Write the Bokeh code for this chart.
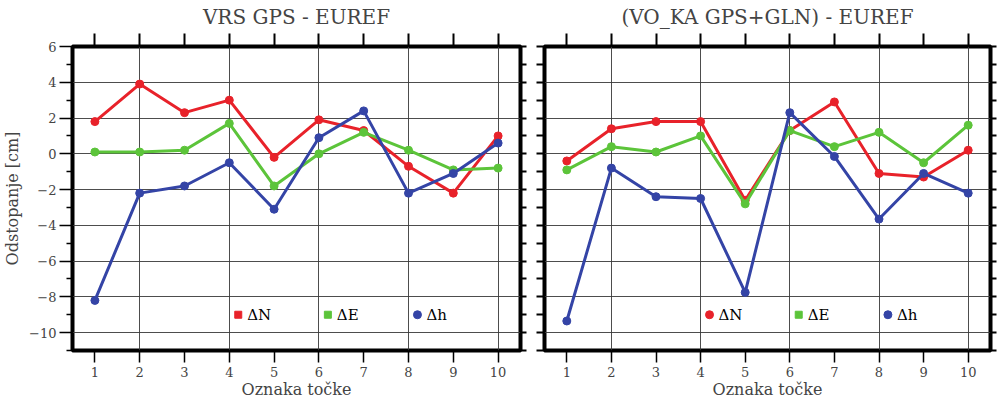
from bokeh.plotting import figure
from bokeh.models import LinearAxis, FixedTicker, Range1d, CustomLabelingPolicy
from bokeh.layouts import row
from bokeh.core.properties import value
from bokeh.embed import file_html
from bokeh.resources import INLINE

# ---------------- data ----------------
tocke = [1, 2, 3, 4, 5, 6, 7, 8, 9, 10]

vrs_dN = [1.8, 3.9, 2.3, 3.0, -0.2, 1.9, 1.3, -0.7, -2.2, 1.0]
vrs_dE = [0.1, 0.1, 0.2, 1.7, -1.8, 0.0, 1.2, 0.2, -0.9, -0.8]
vrs_dh = [-8.2, -2.2, -1.8, -0.5, -3.1, 0.9, 2.4, -2.2, -1.1, 0.6]

voka_dN = [-0.4, 1.4, 1.8, 1.8, -2.6, 1.3, 2.9, -1.1, -1.3, 0.2]
voka_dE = [-0.9, 0.4, 0.1, 1.0, -2.8, 1.3, 0.4, 1.2, -0.5, 1.6]
voka_dh = [-9.35, -0.8, -2.4, -2.5, -7.75, 2.3, -0.15, -3.65, -1.1, -2.2]

series_labels = ["ΔN", "ΔE", "Δh"]
y_major = [-10, -8, -6, -4, -2, 0, 2, 4, 6]
y_minor = [-11, -9, -7, -5, -3, -1, 1, 3, 5]
y_all = list(range(-11, 7))
x_grid = [2, 4, 6, 8, 10]
y_grid = [-10, -8, -6, -4, -2, 0, 2, 4]

titles = ["VRS GPS - EUREF", "(VO_KA GPS+GLN) - EUREF"]
x_label = "Oznaka točke"
y_label = "Odstopanje [cm]"

# ---------------- style ----------------
COLORS = ["#e8222a", "#5cc43a", "#3444a6"]
FONT = "DejaVu Serif"
legend_x = [4.2, 6.2, 8.2]
legend_y = [-9, -9, -9]

NO_LABELS = """
for (let i = 0; i < indices.size; i++) {
  if (typeof indices.unset === "function") { indices.unset(i) } else { indices.set(i, false) }
}
return indices
"""


def tick_only_axis(ticks, out):
    return LinearAxis(ticker=FixedTicker(ticks=ticks), axis_line_color=None,
                      major_tick_in=0, major_tick_out=out, major_tick_line_width=2,
                      minor_tick_in=0, minor_tick_out=0,
                      major_label_text_font_size="1px", major_label_standoff=0,
                      major_label_policy=CustomLabelingPolicy(code=NO_LABELS))


def make_panel(title, series, width, bl, br, labelled, markers, right_out, left_out):
    p = figure(width=width, height=401,
               x_range=Range1d(0.5, 10.5), y_range=Range1d(-11, 6),
               output_backend="svg", toolbar_location=None,
               min_border_left=bl, min_border_right=br,
               min_border_top=46, min_border_bottom=49,
               background_fill_color="white", border_fill_color="white",
               outline_line_color="black", outline_line_width=4,
               title=title)
    p.title.text_font = FONT
    p.title.text_font_size = "20px"
    p.title.text_font_style = "normal"
    p.title.align = "center"
    p.title.standoff = 2

    # grid
    p.xgrid.ticker = FixedTicker(ticks=x_grid)
    p.ygrid.ticker = FixedTicker(ticks=y_grid)
    for g in (p.xgrid, p.ygrid):
        g.grid_line_color = "#3a3a3a"
        g.grid_line_width = 1
        g.grid_line_alpha = 0.9

    # bottom axis
    xa = p.xaxis[0]
    xa.ticker = FixedTicker(ticks=tocke)
    xa.axis_line_color = None
    xa.major_tick_in = 0
    xa.major_tick_out = 12
    xa.major_tick_line_width = 1.5
    xa.minor_tick_out = 0
    xa.minor_tick_in = 0
    xa.major_label_text_font = FONT
    xa.major_label_text_font_size = "13px"
    xa.major_label_standoff = 4
    xa.axis_label = x_label
    xa.axis_label_text_font = FONT
    xa.axis_label_text_font_size = "16px"
    xa.axis_label_text_font_style = "normal"
    xa.axis_label_standoff = 0

    # left axis
    ya = p.yaxis[0]
    ya.axis_line_color = None
    ya.major_tick_in = 0
    ya.minor_tick_in = 0
    if labelled:
        ya.ticker = FixedTicker(ticks=y_major, minor_ticks=y_minor)
        ya.major_tick_out = 13
        ya.minor_tick_out = 6
        ya.major_tick_line_width = 1.5
        ya.minor_tick_line_width = 1.5
        ya.major_label_text_font = FONT
        ya.major_label_text_font_size = "13px"
        ya.major_label_standoff = 3
        ya.axis_label = y_label
        ya.axis_label_text_font = FONT
        ya.axis_label_text_font_size = "16px"
        ya.axis_label_text_font_style = "normal"
        ya.axis_label_standoff = 4
    else:
        ya.ticker = FixedTicker(ticks=y_all)
        ya.major_tick_out = left_out
        ya.minor_tick_out = 0
        ya.major_tick_line_width = 2
        ya.major_label_text_font_size = "1px"
        ya.major_label_standoff = 0
        ya.major_label_policy = CustomLabelingPolicy(code=NO_LABELS)

    # right axis and top axis (ticks only)
    p.add_layout(tick_only_axis(y_all, right_out), "right")
    p.add_layout(tick_only_axis(tocke, 13), "above")

    for vals, c in zip(series, COLORS):
        p.line(tocke, vals, line_width=3, color=c)
        p.scatter(tocke, vals, size=8, color=c)

    # legend
    for i in range(3):
        p.scatter([legend_x[i]], [legend_y[i]], marker=markers[i],
                  size=8 if markers[i] == "circle" else 7, color=COLORS[i])
    p.text(legend_x, legend_y, text=series_labels, x_offset=9,
           text_baseline="middle", text_align="left",
           text_font=value(FONT), text_font_size="15px", text_color="black")
    return p


p1 = make_panel(titles[0], [vrs_dN, vrs_dE, vrs_dh], 531, 68, 6, True,
                ["square", "square", "circle"], 6, 0)
p2 = make_panel(titles[1], [voka_dN, voka_dE, voka_dh], 470, 8, 6, False,
                ["circle", "square", "circle"], 6, 8)

layout = row(p1, p2)
open("out.html", "w").write(file_html(layout, INLINE))
